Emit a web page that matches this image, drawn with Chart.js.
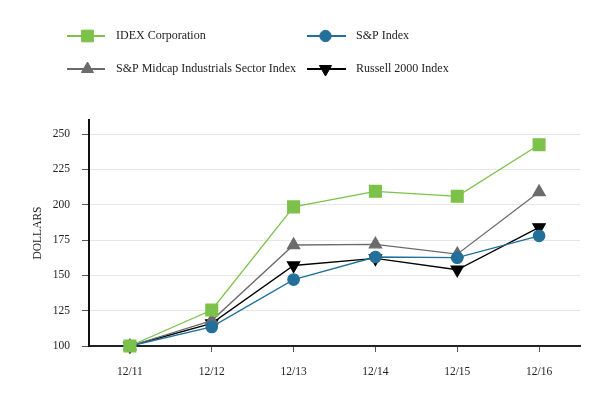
<!DOCTYPE html>
<html>
<head>
<meta charset="utf-8">
<script src="https://cdn.jsdelivr.net/npm/chart.js@4/dist/chart.umd.min.js"></script>
<style>
html,body{margin:0;padding:0;background:#fff;}
#wrap{position:relative;width:613px;height:400px;}
</style>
</head>
<body>
<div id="wrap"><canvas id="c" width="613" height="400"></canvas></div>
<script>
const categories = ['12/11', '12/12', '12/13', '12/14', '12/15', '12/16'];
const idex = [100, 125.5, 198.5, 209.5, 206, 242.5];
const spIndex = [100, 113.5, 147, 163, 162.5, 178];
const midcap = [100, 118, 171.5, 172, 165, 209];
const russell = [100, 116, 157, 162, 154, 184];
const yTicks = [100, 125, 150, 175, 200, 225, 250];

const FONT = "'Liberation Serif', 'Times New Roman', serif";

const series = [
  {label: 'IDEX Corporation', data: idex, color: '#7cc24a', style: 'rect', radius: 8.3, rot: 0},
  {label: 'S&P Index', data: spIndex, color: '#22709a', style: 'circle', radius: 5.7, rot: 0},
  {label: 'S&P Midcap Industrials Sector Index', data: midcap, color: '#6b6b6b', style: 'triangle', radius: 7, rot: 0},
  {label: 'Russell 2000 Index', data: russell, color: '#000000', style: 'triangle', radius: 7, rot: 180}
];

const legendPos = [
  {x1: 67, x2: 105, mx: 87.5, tx: 116, y: 36},
  {x1: 307, x2: 346, mx: 325.5, tx: 356, y: 36},
  {x1: 67, x2: 105, mx: 87.5, tx: 116, y: 69},
  {x1: 307, x2: 346, mx: 325.5, tx: 356, y: 69}
];

const legendPlugin = {
  id: 'twoColLegend',
  afterDraw(chart) {
    const ctx = chart.ctx;
    ctx.save();
    chart.data.datasets.forEach((ds, i) => {
      const p = legendPos[i];
      ctx.strokeStyle = ds.borderColor;
      ctx.lineWidth = 2;
      ctx.beginPath();
      ctx.moveTo(p.x1, p.y);
      ctx.lineTo(p.x2, p.y);
      ctx.stroke();
      ctx.fillStyle = ds.pointBackgroundColor;
      ctx.strokeStyle = ds.pointBackgroundColor;
      ctx.lineWidth = 1;
      Chart.helpers.drawPoint(ctx, {pointStyle: ds.pointStyle, rotation: ds.pointRotation, radius: ds.pointRadius, borderWidth: 1}, p.mx, p.y);
      ctx.fillStyle = '#222';
      ctx.font = '12px ' + FONT;
      ctx.textBaseline = 'middle';
      ctx.textAlign = 'left';
      ctx.fillText(ds.label, p.tx, p.y);
    });
    ctx.restore();
  }
};

new Chart(document.getElementById('c'), {
  type: 'line',
  data: {
    labels: categories,
    datasets: series.map(s => ({
      label: s.label,
      data: s.data,
      borderColor: s.color,
      backgroundColor: s.color,
      pointBackgroundColor: s.color,
      pointBorderColor: s.color,
      pointStyle: s.style,
      pointRotation: s.rot,
      pointRadius: s.radius,
      pointHoverRadius: s.radius,
      borderWidth: 1.3,
      tension: 0,
      fill: false,
      clip: false
    }))
  },
  options: {
    responsive: false,
    animation: false,
    devicePixelRatio: 1,
    layout: {padding: {top: 120, right: 33, bottom: 0, left: 0}},
    plugins: {legend: {display: false}, tooltip: {enabled: false}},
    scales: {
      x: {
        offset: true,
        grid: {display: true, drawOnChartArea: false, drawTicks: true, tickLength: 6, tickColor: '#555', offset: false},
        border: {display: true, color: '#222', width: 2},
        ticks: {color: '#222', font: {family: FONT, size: 11.5}, padding: 13},
        afterFit(scale) { scale.height = 54; }
      },
      y: {
        min: 100,
        max: 260,
        afterBuildTicks(scale) { scale.ticks = yTicks.map(v => ({value: v})); },
        grid: {color: '#e6e6e6', lineWidth: 1, drawTicks: true, tickLength: 7, tickColor: '#555'},
        border: {display: true, color: '#111', width: 2},
        ticks: {color: '#222', font: {family: FONT, size: 11.5}, padding: 12},
        title: {display: true, text: 'DOLLARS', color: '#222', font: {family: FONT, size: 11.5}, padding: {top: 31, bottom: 0}},
        afterFit(scale) { scale.width = 89; }
      }
    }
  },
  plugins: [legendPlugin]
});
</script>
</body>
</html>
